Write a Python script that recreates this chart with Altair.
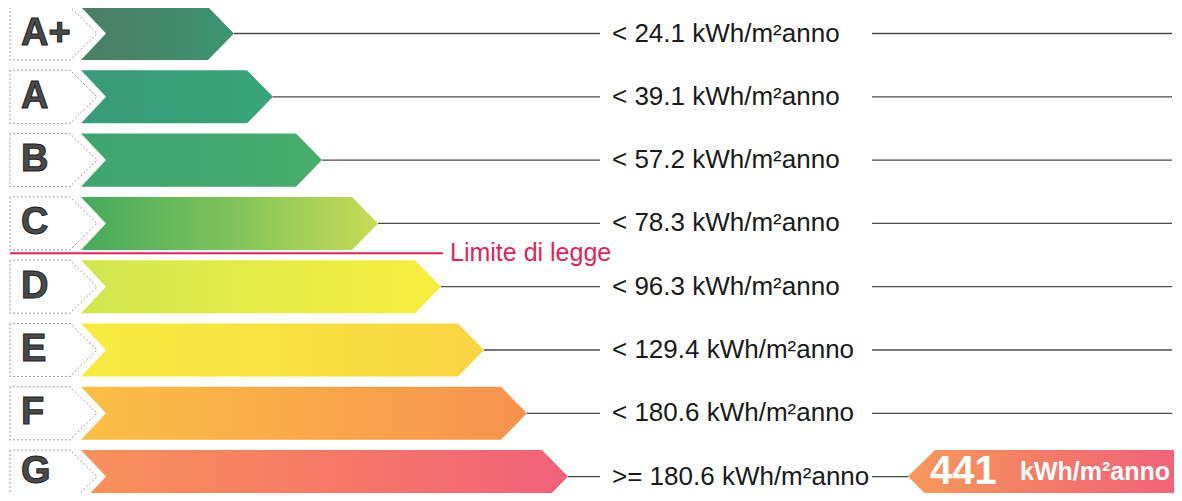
import altair as alt
import pandas as pd

# ---- data ----
classes = ["A+", "A", "B", "C", "D", "E", "F", "G"]
limits = ["< 24.1 kWh/m²anno", "< 39.1 kWh/m²anno", "< 57.2 kWh/m²anno",
          "< 78.3 kWh/m²anno", "< 96.3 kWh/m²anno", "< 129.4 kWh/m²anno",
          "< 180.6 kWh/m²anno", ">= 180.6 kWh/m²anno"]
arrow_end = [234, 273, 322, 378, 441, 484, 527, 568]   # arrow length per class
grad_left = ["#4b7e68", "#3a9b78", "#3ea56f", "#45a95c", "#cfe64f", "#f7eb40", "#fbbf45", "#f9925a"]
grad_mid = ["#44876b", "#38a078", "#40a86e", "#7fc25a", "#e6ec47", "#f8e23f", "#f9a94a", "#f67a66"]
grad_right = ["#3a9672", "#37a577", "#47ae6b", "#c8dc55", "#f8ee3e", "#fad342", "#f7924f", "#f0617b"]
legal_limit_after = 3          # limit line drawn after class index 3 (C)
limit_label = "Limite di legge"
building_value = "441"
building_unit = "kWh/m²anno"
building_class = 7             # G

# ---- geometry constants ----
H = 0.419
DEPTH = 26
X_DOMAIN = [8, 1174]
Y_DOMAIN = [-0.403, 7.259]
LAST_ROW_LIFT = 0.07           # keep bottom-row texts inside the canvas


def X(field):
    return alt.X(field, type="quantitative", scale=alt.Scale(domain=X_DOMAIN, nice=False, zero=False), axis=None)


def Y(field):
    return alt.Y(field, type="quantitative",
                 scale=alt.Scale(domain=Y_DOMAIN, reverse=True, nice=False, zero=False), axis=None)


# label boxes
box_rows = []
for i, c in enumerate(classes):
    box_rows += [dict(cls=c, y=i - H, xl=10, xr=70),
                 dict(cls=c, y=i, xl=10, xr=97),
                 dict(cls=c, y=i + H, xl=10, xr=70)]
box_df = pd.DataFrame(box_rows)

boxes = alt.Chart(box_df).mark_area(
    orient="horizontal", fill="white", stroke="#9a9a9a", strokeWidth=1, strokeDash=[2, 2]
).encode(y=Y("y"), x=X("xl"), x2="xr", detail="cls:N")

layers = [boxes]

# coloured arrows
for i, c in enumerate(classes):
    e = arrow_end[i]
    df = pd.DataFrame([dict(y=i - H, xl=81, xr=e - DEPTH),
                       dict(y=i, xl=106, xr=e),
                       dict(y=i + H, xl=81, xr=e - DEPTH)])
    grad = {"gradient": "linear", "x1": 0, "x2": 1, "y1": 0, "y2": 0,
            "stops": [{"offset": 0, "color": grad_left[i]},
                      {"offset": 0.5, "color": grad_mid[i]},
                      {"offset": 1, "color": grad_right[i]}]}
    layers.append(alt.Chart(df).mark_area(orient="horizontal", color=grad)
                  .encode(y=Y("y"), x=X("xl"), x2="xr"))

# connector lines
line_rows = []
for i, c in enumerate(classes):
    line_rows.append(dict(y=i, x=arrow_end[i], x2=600))
    line_rows.append(dict(y=i, x=872, x2=908 if i == building_class else 1172))
line_df = pd.DataFrame(line_rows)
layers.append(alt.Chart(line_df).mark_rule(color="#4a4a4a", strokeWidth=1.3)
              .encode(y=Y("y"), x=X("x"), x2="x2"))

# letters
n = len(classes)
text_y = [i - (LAST_ROW_LIFT if i == n - 1 else 0) for i in range(n)]
lab_df = pd.DataFrame(dict(y=text_y, x=[21] * n, t=classes))
layers.append(alt.Chart(lab_df).mark_text(
    font="Liberation Sans", fontWeight="bold", fontSize=38, fill="#4a4a4a",
    stroke="#1c1c1c", strokeWidth=1, align="left", baseline="middle"
).encode(y=Y("y"), x=X("x"), text="t:N"))

# threshold texts
thr_df = pd.DataFrame(dict(y=list(range(n)), x=[612] * n, t=limits))
layers.append(alt.Chart(thr_df).mark_text(
    font="Liberation Sans", fontSize=26, color="#1a1a1a", align="left", baseline="middle"
).encode(y=Y("y"), x=X("x"), text="t:N"))

# legal limit line
ly = legal_limit_after + 0.47
lim_df = pd.DataFrame([dict(y=ly, x=10, x2=443, t=limit_label, tx=450)])
layers.append(alt.Chart(lim_df).mark_rule(color="#e0245a", strokeWidth=2)
              .encode(y=Y("y"), x=X("x"), x2="x2"))
layers.append(alt.Chart(lim_df).mark_text(
    font="Liberation Sans", fontSize=25, color="#e0245a", align="left", baseline="middle"
).encode(y=Y("y"), x=X("tx"), text="t:N"))

# building indicator
b = building_class
ind_df = pd.DataFrame([dict(y=b - H, xl=935, xr=1200),
                       dict(y=b, xl=908, xr=1200),
                       dict(y=b + H, xl=935, xr=1200)])
ind_grad = {"gradient": "linear", "x1": 0, "x2": 1, "y1": 0, "y2": 0,
            "stops": [{"offset": 0, "color": "#f7995a"},
                      {"offset": 0.5, "color": "#f4796a"},
                      {"offset": 1, "color": "#ef5f7d"}]}
layers.append(alt.Chart(ind_df).mark_area(orient="horizontal", color=ind_grad)
              .encode(y=Y("y"), x=X("xl"), x2="xr"))
val_df = pd.DataFrame([dict(y=b - LAST_ROW_LIFT, x=930, t=building_value, x2=1020, u=building_unit)])
layers.append(alt.Chart(val_df).mark_text(
    font="Liberation Sans", fontWeight="bold", fontSize=40, color="white", align="left", baseline="middle"
).encode(y=Y("y"), x=X("x"), text="t:N"))
layers.append(alt.Chart(val_df).mark_text(
    font="Liberation Sans", fontWeight="bold", fontSize=25, color="white", align="left", baseline="middle"
).encode(y=Y("y"), x=X("x2"), text="u:N"))

chart = alt.layer(*layers).properties(
    width=1166, height=485, padding=0,
    autosize=alt.AutoSizeParams(type="none")
).configure_view(strokeWidth=0)

chart.save("out.html", embed_options={"renderer": "svg", "actions": False})
